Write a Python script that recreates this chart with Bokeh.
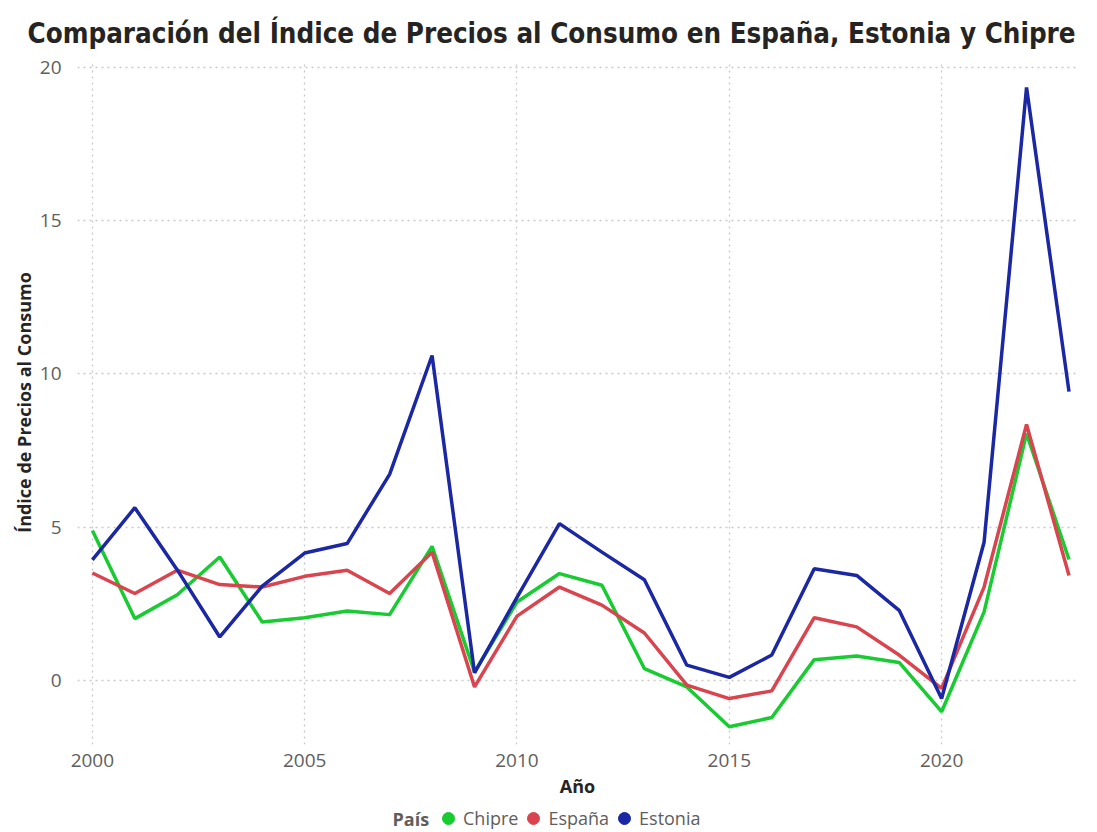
from bokeh.plotting import figure
from bokeh.layouts import column
from bokeh.models import ColumnDataSource, Legend, LegendItem, Label, FixedTicker, Range1d
from bokeh.embed import file_html
from bokeh.resources import INLINE

years = list(range(2000, 2024))
chipre = [4.89, 2.01, 2.79, 4.02, 1.90, 2.04, 2.26, 2.14, 4.37, 0.27, 2.55, 3.48,
          3.10, 0.38, -0.22, -1.52, -1.22, 0.67, 0.79, 0.58, -1.03, 2.23, 8.05, 3.94]
espana = [3.50, 2.83, 3.59, 3.12, 3.04, 3.39, 3.59, 2.83, 4.18, -0.22, 2.09, 3.04,
          2.45, 1.54, -0.16, -0.60, -0.35, 2.04, 1.74, 0.82, -0.27, 3.04, 8.35, 3.42]
estonia = [3.93, 5.63, 3.60, 1.41, 3.07, 4.15, 4.46, 6.72, 10.60, 0.24, 2.70, 5.11,
           4.18, 3.28, 0.49, 0.09, 0.82, 3.64, 3.42, 2.28, -0.60, 4.50, 19.35, 9.42]
series_names = ["Chipre", "España", "Estonia"]
series_values = [chipre, espana, estonia]
series_colors = ["#17CB31", "#D9444F", "#1B27A3"]
x_ticks = [2000, 2005, 2010, 2015, 2020]
y_ticks = [0, 5, 10, 15, 20]

FONT = "Open Sans"
DARK = "#252423"
GRAY = "#605E5C"
W = 1089

p = figure(width=W, height=800, output_backend="svg", toolbar_location=None,
           x_range=Range1d(1999.65, 2023.2), y_range=Range1d(-2.1, 20.23),
           min_border_left=77, min_border_right=12, min_border_top=60,
           min_border_bottom=56)
p.outline_line_color = None
p.background_fill_color = "white"
p.border_fill_color = "white"

p.title.text = "Comparación del Índice de Precios al Consumo en España, Estonia y Chipre"
p.title.text_font = "DejaVu Sans Condensed"
p.title.text_font_style = "bold"
p.title.text_font_size = "27.5px"
p.title.text_color = DARK
p.title.align = "left"
p.title.offset = -50
p.title.standoff = 24

src = ColumnDataSource(dict(year=years, Chipre=chipre, España=espana, Estonia=estonia))
for name, col in zip(series_names, series_colors):
    p.line("year", name, source=src, line_color=col, line_width=3.5)

for ax in (p.xaxis[0], p.yaxis[0]):
    ax.axis_line_color = None
    ax.major_tick_line_color = None
    ax.minor_tick_line_color = None
    ax.major_label_text_font = FONT
    ax.major_label_text_font_size = "19px"
    ax.major_label_text_color = GRAY
    ax.axis_label_text_font = FONT
    ax.axis_label_text_font_style = "bold"
    ax.axis_label_text_font_size = "18px"
    ax.axis_label_text_color = DARK

p.xaxis.ticker = FixedTicker(ticks=x_ticks)
p.yaxis.ticker = FixedTicker(ticks=y_ticks)
p.xaxis.axis_label = "Año"
p.yaxis.axis_label = "Índice de Precios al Consumo"
p.xaxis.major_label_standoff = 3
p.xaxis.axis_label_standoff = 4
p.yaxis.major_label_standoff = 10
p.yaxis.axis_label_standoff = 1

for g in (p.xgrid[0], p.ygrid[0]):
    g.grid_line_color = "#C8C8C8"
    g.grid_line_dash = "2 4"
    g.grid_line_width = 1.3

# legend strip below the chart (same frame margins as the chart)
lg = figure(width=W, height=32, output_backend="svg", toolbar_location=None,
            x_range=Range1d(0, 1), y_range=Range1d(0, 1),
            x_axis_location=None, y_axis_location=None,
            min_border_left=77, min_border_right=12, min_border_top=0, min_border_bottom=0)
lg.grid.visible = False
lg.outline_line_color = None
items = []
for name, vals, col in zip(series_names, series_values, series_colors):
    s = ColumnDataSource(dict(x=years[:1], y=vals[:1]))  # outside the strip's range
    r = lg.scatter("x", "y", source=s, marker="circle", size=12,
                   fill_color=col, line_color=col)
    items.append(LegendItem(label=name, renderers=[r]))
legend = Legend(items=items, orientation="horizontal", location=(356, -1),
                glyph_width=30, glyph_height=30, label_standoff=-4, spacing=-4,
                padding=0, margin=0, border_line_color=None, background_fill_alpha=0,
                label_text_font=FONT, label_text_font_size="18px",
                label_text_color=GRAY)
lg.add_layout(legend, "center")
lg.add_layout(Label(x=315, y=14, x_units="screen", y_units="screen", text="País",
                    text_font=FONT, text_font_style="bold", text_font_size="18px",
                    text_color=GRAY, text_baseline="middle"))

layout = column(p, lg, spacing=0)
open("out.html", "w").write(file_html(layout, INLINE))
